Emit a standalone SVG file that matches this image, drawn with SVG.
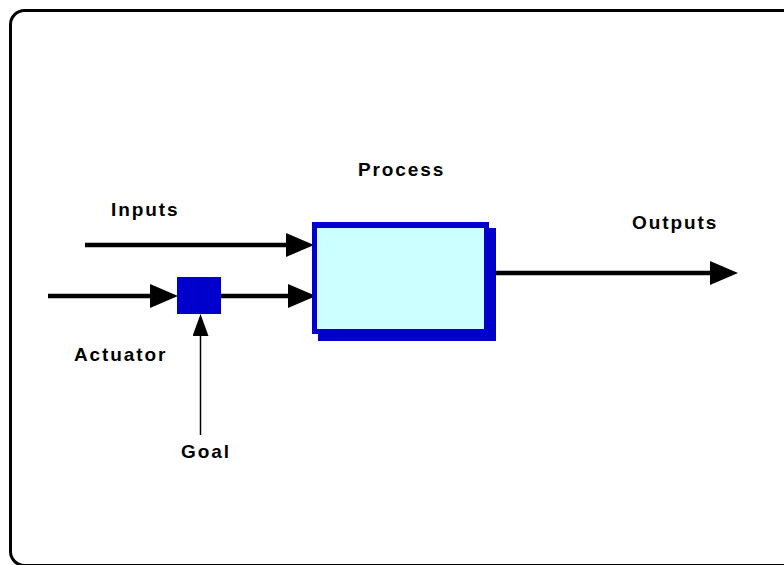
<svg xmlns="http://www.w3.org/2000/svg" width="784" height="565" viewBox="0 0 784 565">
  <style>
    .lbl { font-family: "Liberation Sans", Arial, sans-serif; font-weight: bold; font-size: 19px; letter-spacing: 1.9px; fill: #000; }
    .thick { stroke: #000; stroke-width: 4.5; fill: none; }
    .thin { stroke: #000; stroke-width: 1.5; fill: none; }
    .blue { fill: #0000CC; }
  </style>
  <defs>
    <marker id="bigArrow" markerUnits="userSpaceOnUse" viewBox="0 0 28 24" refX="18" refY="12" markerWidth="28" markerHeight="24" orient="auto">
      <path d="M0,0 L28,12 L0,24 Z" fill="#000"/>
    </marker>
    <marker id="smallArrow" markerUnits="userSpaceOnUse" viewBox="0 0 22 16" refX="14" refY="8" markerWidth="22" markerHeight="16" orient="auto">
      <path d="M0,0 L22,8 L0,16 Z" fill="#000"/>
    </marker>
  </defs>
  <rect width="784" height="565" fill="#fff"/>
  <rect id="frame" x="10.5" y="10.5" width="790" height="555" rx="14" ry="14" fill="none" stroke="#000" stroke-width="3"/>

  <g id="connectors">
    <line class="thick" x1="85" y1="245" x2="304" y2="245" marker-end="url(#bigArrow)"/>
    <line class="thick" x1="48" y1="296" x2="168" y2="296" marker-end="url(#bigArrow)"/>
    <line class="thick" x1="221" y1="296" x2="306" y2="296" marker-end="url(#bigArrow)"/>
    <line class="thick" x1="489" y1="273" x2="728" y2="273" marker-end="url(#bigArrow)"/>
    <line class="thin" x1="200.5" y1="435" x2="200.5" y2="322" marker-end="url(#smallArrow)"/>
  </g>

  <g id="process">
    <rect class="blue" x="318" y="228" width="178" height="113"/>
    <rect class="blue" x="312" y="222" width="177" height="112"/>
    <rect x="317" y="228" width="167" height="101" fill="#CCFFFF"/>
    <text class="lbl" x="358" y="176">Process</text>
  </g>

  <g id="actuator">
    <rect class="blue" x="177" y="277" width="44" height="37"/>
    <text class="lbl" x="74" y="361">Actuator</text>
  </g>

  <g id="inputs">
    <text class="lbl" x="111" y="216">Inputs</text>
  </g>

  <g id="outputs">
    <text class="lbl" x="632" y="229">Outputs</text>
  </g>

  <g id="goal">
    <text class="lbl" x="181" y="458">Goal</text>
  </g>
</svg>
